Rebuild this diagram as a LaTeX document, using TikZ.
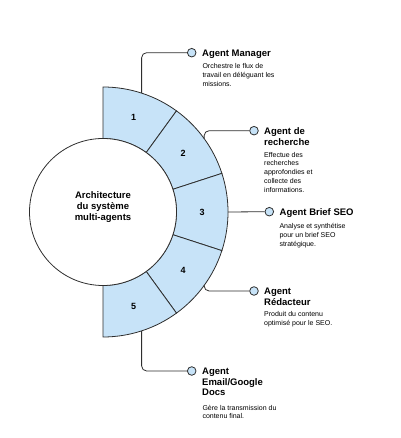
\documentclass[tikz,border=0pt]{standalone}
\usepackage{fontspec}
\setmainfont{Liberation Sans}
\usepackage{tikz}

\definecolor{segblue}{HTML}{C7E3F8}
\definecolor{linegray}{HTML}{2E2E2E}

\tikzset{
  segment/.style={draw=linegray,fill=segblue,line width=0.8pt},
  dot/.style={circle,draw=linegray,fill=segblue,minimum size=8.6pt,inner sep=0pt,line width=0.8pt},
  link/.style={draw=linegray,line width=0.8pt,rounded corners=5pt},
  title/.style={anchor=north west,inner sep=0pt,align=left,text=black,font=\bfseries\fontsize{9.5}{10.7}\selectfont},
  desc/.style={anchor=north west,inner sep=0pt,align=left,text=black,font=\fontsize{7}{8.8}\selectfont}
}

\begin{document}
\begin{tikzpicture}[x=1pt,y=1pt]
\useasboundingbox (0,0) rectangle (400,438);

	% ring of agents round the hub
	\begin{scope}[shift={(103,226)}]
		\draw[segment] (90:73.5) -- (90:125) arc[start angle=90,end angle=54,radius=125] -- (54:73.5) arc[start angle=54,end angle=90,radius=73.5] -- cycle;
		\draw[segment] (54:73.5) -- (54:125) arc[start angle=54,end angle=18,radius=125] -- (18:73.5) arc[start angle=18,end angle=54,radius=73.5] -- cycle;
		\draw[segment] (18:73.5) -- (18:125) arc[start angle=18,end angle=-18,radius=125] -- (-18:73.5) arc[start angle=-18,end angle=18,radius=73.5] -- cycle;
		\draw[segment] (-18:73.5) -- (-18:125) arc[start angle=-18,end angle=-54,radius=125] -- (-54:73.5) arc[start angle=-54,end angle=-18,radius=73.5] -- cycle;
		\draw[segment] (-54:73.5) -- (-54:125) arc[start angle=-54,end angle=-90,radius=125] -- (-90:73.5) arc[start angle=-90,end angle=-54,radius=73.5] -- cycle;
		\draw[draw=linegray,fill=white,line width=0.8pt] (0,0) circle (73.5);

		\node[align=center,font=\bfseries\fontsize{9.5}{10.8}\selectfont] (hub) at (0,5) {Architecture\\du système\\multi-agents};

		\begin{scope}[every node/.style={font=\bfseries\fontsize{9}{10}\selectfont}]
			\node (n1) at (72:99) {1};
			\node (n2) at (36:99) {2};
			\node (n3) at (0:99) {3};
			\node (n4) at (-36:99) {4};
			\node (n5) at (-72:99) {5};
		\end{scope}

		\coordinate (s1) at (72:125);
		\coordinate (s2) at (36:125);
		\coordinate (s3) at (0:125);
		\coordinate (s4) at (-36:125);
		\coordinate (s5) at (-72:125);
	\end{scope}

	% end points
	\node[dot] (d1) at (191.7,385.3) {};
	\node[dot] (d2) at (254,307.3) {};
	\node[dot] (d3) at (269.3,226.3) {};
	\node[dot] (d4) at (254,147) {};
	\node[dot] (d5) at (191.7,67) {};

	\path[link] (s1) |- (d1);
	\path[link] (s2) |- (d2);
	\path[link] (s3) -- (d3);
	\path[link] (s4) |- (d4);
	\path[link] (s5) |- (d5);

	% labels
	\node[title] (t1) at (202,388.7) {Agent Manager};
	\node[title] (t2) at (264,310.7) {Agent de\\recherche};
	\node[title] (t3) at (279.5,229.7) {Agent Brief SEO};
	\node[title] (t4) at (264,150.4) {Agent\\Rédacteur};
	\node[title] (t5) at (202,70.4) {Agent\\Email/Google\\Docs};

	\node[desc] (p1) at (202.3,374.8) {Orchestre le flux de\\travail en déléguant les\\missions.};
	\node[desc] (p2) at (264,286.2) {Effectue des\\recherches\\approfondies et\\collecte des\\informations.};
	\node[desc] (p3) at (279.3,214.8) {Analyse et synthétise\\pour un brief SEO\\stratégique.};
	\node[desc] (p4) at (264,126.3) {Produit du contenu\\optimisé pour le SEO.};
	\node[desc] (p5) at (202.3,33.2) {Gère la transmission du\\contenu final.};

\end{tikzpicture}
\end{document}
